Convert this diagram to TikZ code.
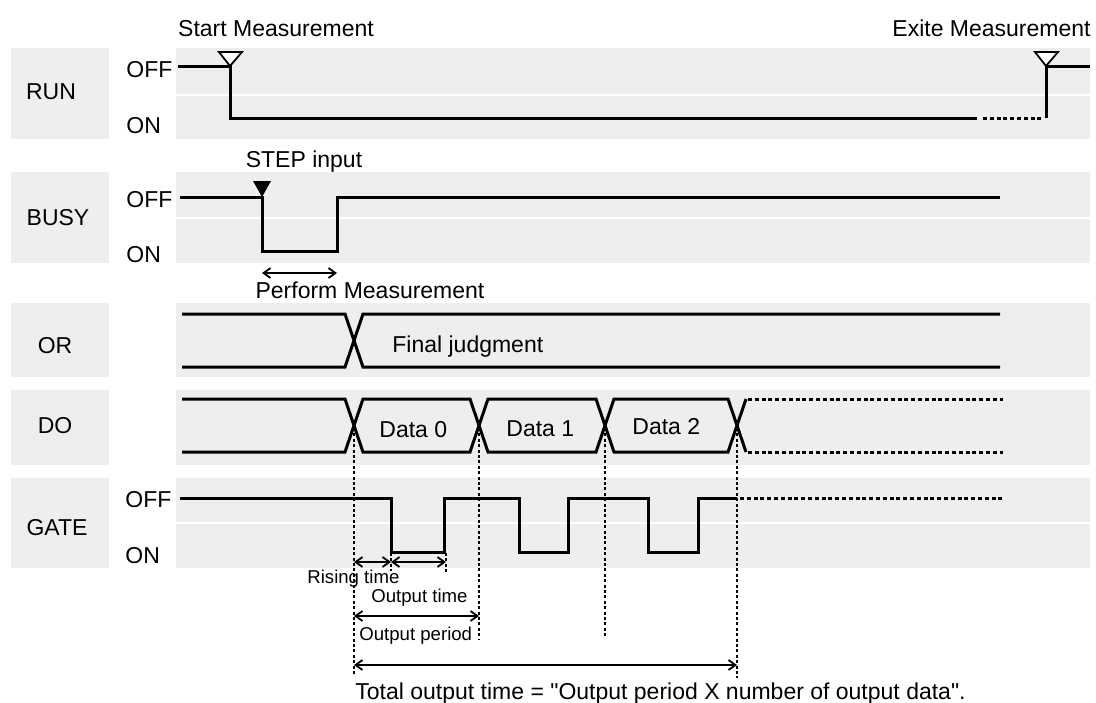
\documentclass[tikz,border=0pt]{standalone}
\usepackage{fontspec}
\setmainfont{Liberation Sans}[Ligatures=TeXOff]
\usepackage{tikz}
\usetikzlibrary{arrows.meta}
\usepackage{xcolor}
\definecolor{bandgray}{HTML}{EEEEEE}

\begin{document}
\begin{tikzpicture}[x=0.5pt, y=-0.5pt,
    every node/.style={font=\fontsize{11.5}{13}\selectfont, inner sep=0pt},
    small/.style={font=\fontsize{9.3}{11}\selectfont},
    split/.style={draw=white, line width=1pt},
    sig/.style={line width=1.5pt},
    sigdash/.style={line width=1.5pt, dash pattern=on 2pt off 1.4pt},
    guide/.style={line width=0.9pt, dash pattern=on 1.5pt off 1.2pt},
    dim/.style={line width=0.9pt, {Straight Barb[length=3.5pt,width=5pt]}-{Straight Barb[length=3.5pt,width=5pt]}},
    trig/.style={line width=0.9pt, line join=miter}]
    \useasboundingbox (0,0) rectangle (1096,702);

    % bands
    \fill[bandgray] (11,48) rectangle (109,139);
    \fill[bandgray] (176,48) rectangle (1090,139);
    \draw[split] (176,94.5) -- (1090,94.5);
    \fill[bandgray] (11,172) rectangle (109,263);
    \fill[bandgray] (176,172) rectangle (1090,263);
    \draw[split] (176,218) -- (1090,218);
    \fill[bandgray] (11,303) rectangle (109,377);
    \fill[bandgray] (176,303) rectangle (1090,377);
    \fill[bandgray] (11,390) rectangle (109,465);
    \fill[bandgray] (176,390) rectangle (1090,465);
    \fill[bandgray] (11,478) rectangle (109,568);
    \fill[bandgray] (176,478) rectangle (1090,568);
    \draw[split] (176,523) -- (1090,523);

    % RUN
    \node[anchor=base] (run) at (51,99) {RUN};
    \node[anchor=base west] (runoff) at (126,77) {OFF};
    \node[anchor=base west] (runon) at (126,133) {ON};
    \draw[sig] (178,66) -- (230,66) -- (230,118) -- (977,118);
    \draw[sigdash] (983,118) -- (1043,118);
    \draw[sig] (1046,118) -- (1046,66) -- (1090,66);
    \draw[trig, fill=white] (219,52) -- (242,52) -- (230,66) -- cycle;
    \draw[trig, fill=white] (1035,52) -- (1058,52) -- (1046,66) -- cycle;
    \node[anchor=base] (start) at (276,36) {Start Measurement};
    \node[anchor=base east] (exite) at (1091,36) {Exite Measurement};

    % BUSY
    \node[anchor=base] (busy) at (58,225) {BUSY};
    \node[anchor=base west] (busyoff) at (126,207) {OFF};
    \node[anchor=base west] (busyon) at (126,262) {ON};
    \draw[sig] (180,197) -- (262,197) -- (262,251) -- (337,251) -- (337,197) -- (1000,197);
    \fill[trig] (253,181) -- (271,181) -- (262,197) -- cycle;
    \node[anchor=base] (steptxt) at (304,167) {STEP input};
    \coordinate (pmA) at (262,273);
    \coordinate (pmB) at (337,273);
    \draw[dim] (pmA) -- (pmB);
    \node[anchor=base] (perform) at (370,298) {Perform Measurement};

    % OR
    \node[anchor=base] (or) at (55,353) {OR};
    \draw[sig] (182,314) -- (345,314) -- (363,367) -- (1000,367);
    \draw[sig] (182,367) -- (345,367) -- (363,314) -- (1000,314);
    \node[anchor=base west] (final) at (392,352) {Final judgment};

    % DO
    \node[anchor=base] (do) at (55,433) {DO};
    \draw[sig] (182,399) -- (345,399) -- (363,452) -- (470,452) -- (488,399) -- (596,399)
        -- (614,452) -- (728,452) -- (746,399);
    \draw[sig] (182,452) -- (345,452) -- (363,399) -- (470,399) -- (488,452) -- (596,452)
        -- (614,399) -- (728,399) -- (746,452);
    \draw[sigdash] (748,399) -- (1003,399);
    \draw[sigdash] (748,452) -- (1003,452);
    \node[anchor=base west] (data0) at (379,437) {Data 0};
    \node[anchor=base west] (data1) at (506,436) {Data 1};
    \node[anchor=base west] (data2) at (632,434) {Data 2};

    % GATE
    \node[anchor=base] (gate) at (57,535) {GATE};
    \node[anchor=base west] (gateoff) at (125,507) {OFF};
    \node[anchor=base west] (gateon) at (125,563) {ON};
    \draw[sig] (180,498) -- (391,498) -- (391,552) -- (444,552) -- (444,498) -- (519,498)
        -- (519,552) -- (568,552) -- (568,498) -- (648,498) -- (648,552) -- (698,552)
        -- (698,498) -- (737,498);
    \draw[sigdash] (740,498) -- (1003,498);

    % timing guides
    \draw[guide] (354,428) -- (354,676);
    \draw[guide] (479,428) -- (479,640);
    \draw[guide] (605,428) -- (605,637);
    \draw[guide] (737,428) -- (737,678);
    \draw[guide] (391,553) -- (391,571);
    \draw[guide] (446,553) -- (446,573);

    % dimensions
    \coordinate (rs) at (354,562);
    \coordinate (re) at (391,562);
    \coordinate (oe) at (446,562);
    \coordinate (ps) at (354,616);
    \coordinate (pe) at (479,616);
    \coordinate (ts) at (354,665);
    \coordinate (te) at (737,665);
    \draw[dim] (rs) -- (re);
    \draw[dim] (re) -- (oe);
    \draw[dim] (ps) -- (pe);
    \draw[dim] (ts) -- (te);
    \node[small, anchor=base west] (rising) at (307,583) {Rising time};
    \node[small, anchor=base west] (outtime) at (371,602) {Output time};
    \node[small, anchor=base west] (outper) at (359,640) {Output period};
    \node[anchor=base west] (total) at (355,699) {Total output time = "Output period X number of output data".};
\end{tikzpicture}
\end{document}
